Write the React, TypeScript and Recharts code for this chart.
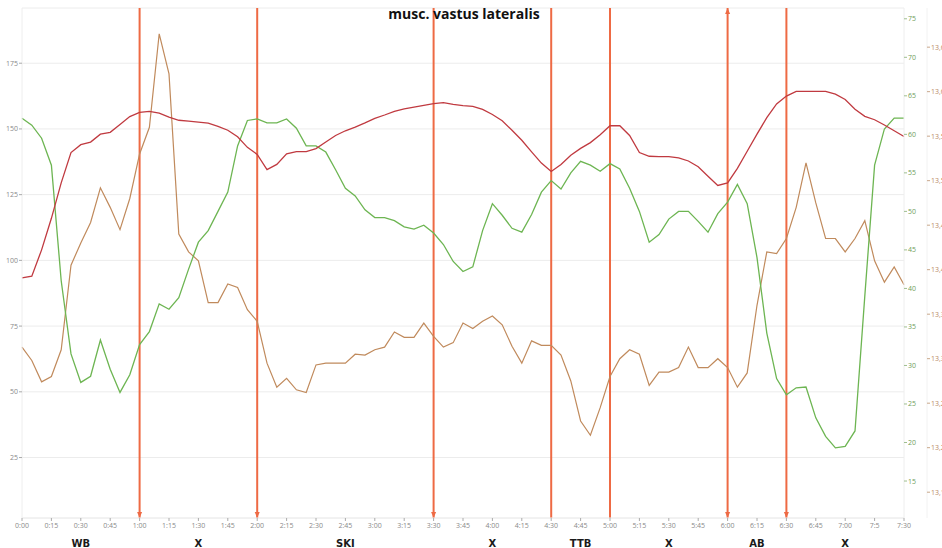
import { CartesianGrid, Line, LineChart, ReferenceLine, XAxis, YAxis } from "recharts";

// time in minutes
const minutes = [
  0, 5, 10, 15, 20, 25, 30, 35, 40, 45, 50, 55, 60, 65, 70, 75, 80, 85, 90, 95,
  100, 105, 110, 115, 120, 125, 130, 135, 140, 145, 150, 155, 160, 165, 170, 175, 180, 185, 190, 195,
  200, 205, 210, 215, 220, 225, 230, 235, 240, 245, 250, 255, 260, 265, 270, 275, 280, 285, 290, 295,
  300, 305, 310, 315, 320, 325, 330, 335, 340, 345, 350, 355, 360, 365, 370, 375, 380, 385, 390, 395,
  400, 405, 410, 415, 420, 425, 430, 435, 440, 445, 450,
];

const heartRate = [
  93.3, 94, 104, 116, 129.5, 141, 144, 145, 148, 148.7, 151.7, 154.7, 156.3, 156.7, 156, 154.5, 153.3, 153, 152.6, 152.2,
  151, 149.5, 147, 143, 140.3, 134.5, 136.5, 140.5, 141.4, 141.4, 142.5, 145, 147.5, 149.3, 150.7, 152.3, 154, 155.3, 156.7, 157.6,
  158.3, 159, 159.6, 160, 159.3, 158.9, 158.6, 157.4, 155.5, 153.1, 149.5, 145.7, 141.3, 137, 133.8, 136.5, 140, 142.6, 144.8, 147.8,
  151.2, 151.2, 147.5, 141, 139.6, 139.5, 139.5, 139, 137.8, 135.6, 132, 128.5, 129.5, 135, 141.5, 148, 154.3, 159.5, 162.5, 164.3,
  164.3, 164.3, 164.3, 163.2, 161.2, 157.5, 154.8, 153.5, 151.5, 149.3, 147.1,
];

const smo2 = [
  62.1, 61.2, 59.5, 56, 41, 31.5, 27.8, 28.6, 33.3, 29.5, 26.5, 28.8, 32.7, 34.4, 38, 37.3, 38.8, 42.5, 46, 47.5,
  50, 52.5, 58.5, 61.8, 62, 61.5, 61.5, 62, 60.8, 58.5, 58.5, 57.7, 55.4, 53, 52, 50.2, 49.2, 49.2, 48.8, 48,
  47.7, 48.2, 47.2, 45.7, 43.5, 42.2, 42.8, 47.5, 51, 49.5, 47.8, 47.3, 49.6, 52.5, 54, 52.9, 55, 56.5, 56, 55.2,
  56.2, 55.5, 53, 50, 46, 47, 49, 50, 50, 48.7, 47.3, 49.7, 51.2, 53.5, 51, 44, 34.2, 28.3, 26.2, 27.1,
  27.2, 23.2, 20.8, 19.3, 19.5, 21.5, 39, 56, 60.7, 62.1, 62.1,
];

const thb = [
  13.313, 13.298, 13.274, 13.28, 13.31, 13.405, 13.43, 13.453, 13.492, 13.47, 13.445, 13.48, 13.53, 13.56, 13.665, 13.62, 13.44, 13.42, 13.41, 13.363,
  13.363, 13.384, 13.38, 13.355, 13.342, 13.295, 13.268, 13.278, 13.265, 13.262, 13.293, 13.295, 13.295, 13.295, 13.305, 13.304, 13.31, 13.313, 13.33, 13.324,
  13.324, 13.34, 13.325, 13.313, 13.318, 13.34, 13.334, 13.342, 13.348, 13.338, 13.314, 13.295, 13.32, 13.315, 13.315, 13.304, 13.275, 13.23, 13.214, 13.245,
  13.28, 13.3, 13.31, 13.305, 13.27, 13.285, 13.285, 13.29, 13.313, 13.29, 13.29, 13.3, 13.29, 13.268, 13.284, 13.36, 13.42, 13.418, 13.435, 13.47,
  13.52, 13.475, 13.435, 13.435, 13.42, 13.435, 13.455, 13.41, 13.386, 13.403, 13.383,
];

const xTicks = [0, 15, 30, 45, 60, 75, 90, 105, 120, 135, 150, 165, 180, 195, 210, 225, 240, 255, 270, 285, 300, 315, 330, 345, 360, 375, 390, 405, 420, 435, 450];
const xTickLabels = ["0:00", "0:15", "0:30", "0:45", "1:00", "1:15", "1:30", "1:45", "2:00", "2:15", "2:30", "2:45", "3:00", "3:15", "3:30", "3:45", "4:00", "4:15", "4:30", "4:45", "5:00", "5:15", "5:30", "5:45", "6:00", "6:15", "6:30", "6:45", "7:00", "7:5", "7:30"];

const phaseNames = ["WB", "X", "SKI", "X", "TTB", "X", "AB", "X"];
const phaseCenters = [30, 90, 165, 240, 285, 330, 375, 420];
const phaseBreaks = [60, 120, 210, 270, 300, 360, 390];
const arrowBottom = [60, 120, 210, 360, 390];
const arrowTop = [360];

const leftTicks = [25, 50, 75, 100, 125, 150, 175];
const greenTicks = [15, 20, 25, 30, 35, 40, 45, 50, 55, 60, 65, 70, 75];
const brownTicks = [13.15, 13.2, 13.25, 13.3, 13.35, 13.4, 13.45, 13.5, 13.55, 13.6, 13.65];

const rows = minutes.map((t, i) => ({ t, hr: heartRate[i], smo2: smo2[i], thb: thb[i] }));

const tickFont = { fontSize: 7, fontFamily: "Open Sans", fill: "#8a8a8a" };
const marker = "#ee6a44";

function markerShape(at: number) {
  return (p: any) => {
    const x = p.x1;
    const top = Math.min(p.y1, p.y2);
    const bottom = Math.max(p.y1, p.y2);
    return (
      <g>
        <line x1={x} y1={top} x2={x} y2={bottom} stroke={marker} strokeWidth={2} />
        {arrowBottom.includes(at) ? (
          <path d={`M${x - 2.5},${bottom - 6} L${x + 2.5},${bottom - 6} L${x},${bottom} Z`} fill={marker} />
        ) : null}
        {arrowTop.includes(at) ? (
          <path d={`M${x - 2.5},${top + 6} L${x + 2.5},${top + 6} L${x},${top} Z`} fill={marker} />
        ) : null}
      </g>
    );
  };
}

export default function App() {
  return (
    <div style={{ position: "absolute", left: 0, top: 0, width: 942, height: 548, background: "#fff" }}>
      <LineChart width={942} height={548} data={rows} margin={{ top: 8, right: 0, left: 0, bottom: 0 }}>
        <CartesianGrid xAxisId="a_time" yAxisId="left" vertical={false} stroke="#ececec" />
        <XAxis
          xAxisId="a_time"
          dataKey="t"
          type="number"
          domain={[0, 450]}
          ticks={xTicks}
          tickFormatter={(v: number) => xTickLabels[xTicks.indexOf(v)] ?? ""}
          interval={0}
          height={16}
          tickSize={3}
          tickMargin={2}
          stroke="#aaa"
          axisLine={{ stroke: "#eeeeee" }}
          tick={tickFont}
        />
        <XAxis
          xAxisId="b_phase"
          dataKey="t"
          type="number"
          domain={[0, 450]}
          ticks={phaseCenters}
          tickFormatter={(v: number) => phaseNames[phaseCenters.indexOf(v)] ?? ""}
          interval={0}
          height={14}
          axisLine={false}
          tickLine={false}
          tickMargin={0}
          tick={{ fontSize: 10, fontFamily: "DejaVu Sans", fontWeight: "bold", fill: "#1a1a1a" }}
        />
        <YAxis
          yAxisId="left"
          domain={[2, 196]}
          ticks={leftTicks}
          width={22}
          tickSize={3}
          tickMargin={1}
          stroke="#aaa"
          axisLine={{ stroke: "#eeeeee" }}
          tick={tickFont}
          allowDataOverflow
        />
        <YAxis
          yAxisId="r1_green"
          orientation="right"
          domain={[10.2, 76.4]}
          ticks={greenTicks}
          width={23}
          tickSize={3}
          tickMargin={1}
          stroke="#9fbf90"
          axisLine={{ stroke: "#eeeeee" }}
          tick={{ ...tickFont, fill: "#6f9e5a" }}
          allowDataOverflow
        />
        <YAxis
          yAxisId="r2_brown"
          orientation="right"
          domain={[13.121, 13.694]}
          ticks={brownTicks}
          width={15}
          tickSize={3}
          tickMargin={1}
          stroke="#c9a88c"
          axisLine={{ stroke: "#f2f2f2" }}
          tick={{ ...tickFont, fill: "#b88a66" }}
          tickFormatter={(v: number) => v.toFixed(2).replace(".", ",")}
          allowDataOverflow
        />
        {phaseBreaks.map((b) => (
          <ReferenceLine key={b} xAxisId="a_time" yAxisId="left" x={b} stroke={marker} strokeWidth={2} shape={markerShape(b)} />
        ))}
        <Line xAxisId="a_time" yAxisId="r2_brown" type="linear" dataKey="thb" stroke="#c08a5c" strokeWidth={1.2} dot={false} isAnimationActive={false} />
        <Line xAxisId="a_time" yAxisId="r1_green" type="linear" dataKey="smo2" stroke="#6db552" strokeWidth={1.3} dot={false} isAnimationActive={false} />
        <Line xAxisId="a_time" yAxisId="left" type="linear" dataKey="hr" stroke="#c03a40" strokeWidth={1.3} dot={false} isAnimationActive={false} />
      </LineChart>
      <div
        style={{
          position: "absolute",
          left: 0,
          top: 4,
          width: 928,
          textAlign: "center",
          fontFamily: "Open Sans",
          fontWeight: 700,
          fontSize: 14,
          color: "#111",
        }}
      >
        musc. vastus lateralis
      </div>
    </div>
  );
}
